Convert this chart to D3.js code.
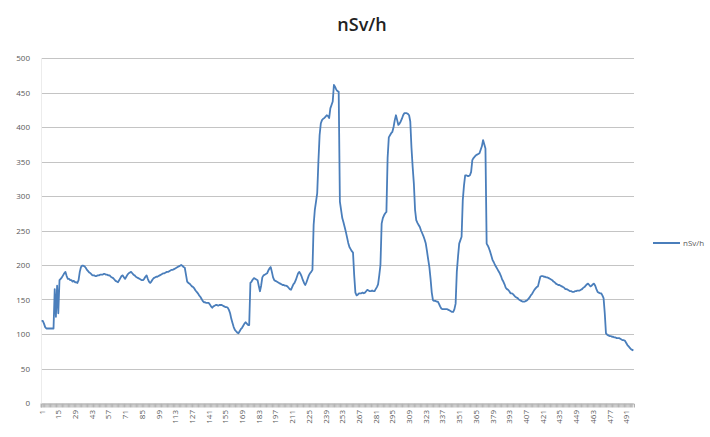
<!DOCTYPE html>
<html>
<head>
<meta charset="utf-8">
<script src="https://cdn.jsdelivr.net/npm/d3@7"></script>
<style>
  html, body { margin: 0; padding: 0; background: #fff; }
  svg { display: block; }
  text { font-family: "Open Sans", "Liberation Sans", sans-serif; }
</style>
</head>
<body>
<script>
const seriesName = "nSv/h";
const values = [
119,119,115,110,108,108,108,108,108,108,
108,165,125,170,130,178,180,182,185,188,
190,184,180,180,178,178,176,177,175,175,
174,178,190,197,199,199,198,196,193,191,
189,188,186,185,185,184,184,185,185,186,
186,186,187,187,186,186,185,185,183,182,
181,179,177,176,175,178,181,184,185,182,
180,183,186,188,189,190,188,186,185,183,
182,181,180,179,178,178,180,183,185,180,
176,174,176,179,181,182,183,183,184,185,
186,187,188,188,189,190,190,191,192,193,
193,194,195,196,197,198,199,200,199,197,
196,186,176,174,173,171,169,168,166,163,
161,159,156,154,151,148,146,146,145,145,
145,143,140,138,140,141,142,142,141,142,
142,142,141,140,139,139,138,135,130,122,
116,110,106,104,102,101,104,107,109,112,
115,117,115,113,113,174,176,179,181,180,
179,178,170,162,170,182,185,186,187,188,
192,195,197,190,182,178,177,176,175,174,
173,172,171,171,170,170,169,167,165,164,
168,172,174,178,183,188,190,187,183,178,
174,171,175,180,185,188,190,193,258,280,
292,304,350,388,405,410,412,413,415,417,
416,413,427,432,437,461,458,454,452,451,
292,280,268,262,255,248,240,232,226,223,
220,218,185,160,156,157,159,159,159,160,
159,160,162,164,163,162,162,163,162,162,
165,168,172,185,200,260,268,272,275,277,
355,385,388,391,393,400,410,417,410,403,
405,408,412,417,420,420,420,419,417,408,
370,342,318,280,265,261,258,255,250,246,
242,237,231,220,208,197,180,160,149,148,
148,147,147,144,140,137,136,136,136,136,
136,135,134,133,132,132,136,144,190,212,
231,236,241,294,315,330,330,329,329,330,
335,352,355,357,359,360,361,362,367,372,
381,375,369,231,228,224,219,213,207,204,
200,197,194,191,188,184,179,176,172,167,
165,164,162,159,159,158,156,154,153,152,
150,149,148,147,147,147,148,149,151,153,
156,158,161,164,166,168,169,176,183,184,
184,183,183,182,182,181,180,179,178,176,
175,173,172,171,171,170,169,168,167,165,
165,164,163,162,162,161,161,162,162,163,
163,163,164,165,167,168,170,172,173,171,
169,170,172,173,170,165,161,160,159,159,
156,152,130,101,99,98,97,97,96,96,
95,95,94,94,94,93,92,91,91,90,
87,84,82,80,78,77,76
];
const categories = values.map((v, i) => i + 1);
const xTickLabels = [1,15,29,43,57,71,85,99,113,127,141,155,169,183,197,211,225,239,253,267,281,295,309,323,337,351,365,379,393,407,421,435,449,463,477,491];
const yTicks = [0,50,100,150,200,250,300,350,400,450,500];

const W = 710, H = 437;
const svg = d3.select("body").append("svg").attr("width", W).attr("height", H);

const x = d3.scaleBand().domain(categories).range([41, 634]).padding(0);
const y = d3.scaleLinear().domain([0, 500]).range([403, 58]);
const cx = d => x(d) + x.bandwidth() / 2;

// gridlines
svg.append("g").selectAll("line").data(yTicks.filter(t => t > 0)).join("line")
  .attr("x1", 41).attr("x2", 634)
  .attr("y1", d => Math.round(y(d)) + 0.5).attr("y2", d => Math.round(y(d)) + 0.5)
  .attr("stroke", "#c4c4c4").attr("stroke-width", 1);

// left faint axis line
svg.append("line").attr("x1", 41.5).attr("x2", 41.5).attr("y1", y(500)).attr("y2", y(0))
  .attr("stroke", "#ececec");

// y axis labels
const yAxis = d3.axisLeft(y).tickValues(yTicks).tickSize(0).tickPadding(0);
const yg = svg.append("g").attr("transform", "translate(30,0)").call(yAxis);
yg.select(".domain").remove();
yg.selectAll("text").attr("font-size", 8).attr("fill", "#595959")
  .attr("font-family", "'Open Sans', 'Liberation Sans', sans-serif");

// x axis line with category tick marks
const xAxis = d3.axisBottom(x).tickValues(categories).tickSize(4).tickFormat("");
const xg = svg.append("g").attr("transform", `translate(0,${Math.round(y(0)) + 0.5})`).call(xAxis);
xg.select(".domain").attr("stroke", "#b0b0b0");
xg.selectAll(".tick line").attr("stroke", "#b4b4b4").attr("transform", `translate(${-x.bandwidth()/2},0)`);

// x labels
svg.append("g").selectAll("text").data(xTickLabels).join("text")
  .attr("transform", d => `translate(${cx(d) + 3},${410}) rotate(-90)`)
  .attr("text-anchor", "end")
  .attr("font-size", 8).attr("fill", "#595959")
  .text(d => d);

// line
const line = d3.line().x((d, i) => cx(categories[i])).y(d => y(d));
svg.append("path").datum(values).attr("d", line)
  .attr("fill", "none").attr("stroke", "#4a7ebb").attr("stroke-width", 1.8)
  .attr("stroke-linejoin", "round");

// title
svg.append("text").attr("x", 362).attr("y", 31).attr("text-anchor", "middle")
  .attr("font-size", 18).attr("font-weight", 600).attr("fill", "#222")
  .text(seriesName);

// legend
svg.append("line").attr("x1", 653).attr("x2", 680).attr("y1", 243).attr("y2", 243)
  .attr("stroke", "#4a7ebb").attr("stroke-width", 2);
svg.append("text").attr("x", 683).attr("y", 246).attr("font-size", 8).attr("fill", "#595959")
  .text(seriesName);
</script>
</body>
</html>
